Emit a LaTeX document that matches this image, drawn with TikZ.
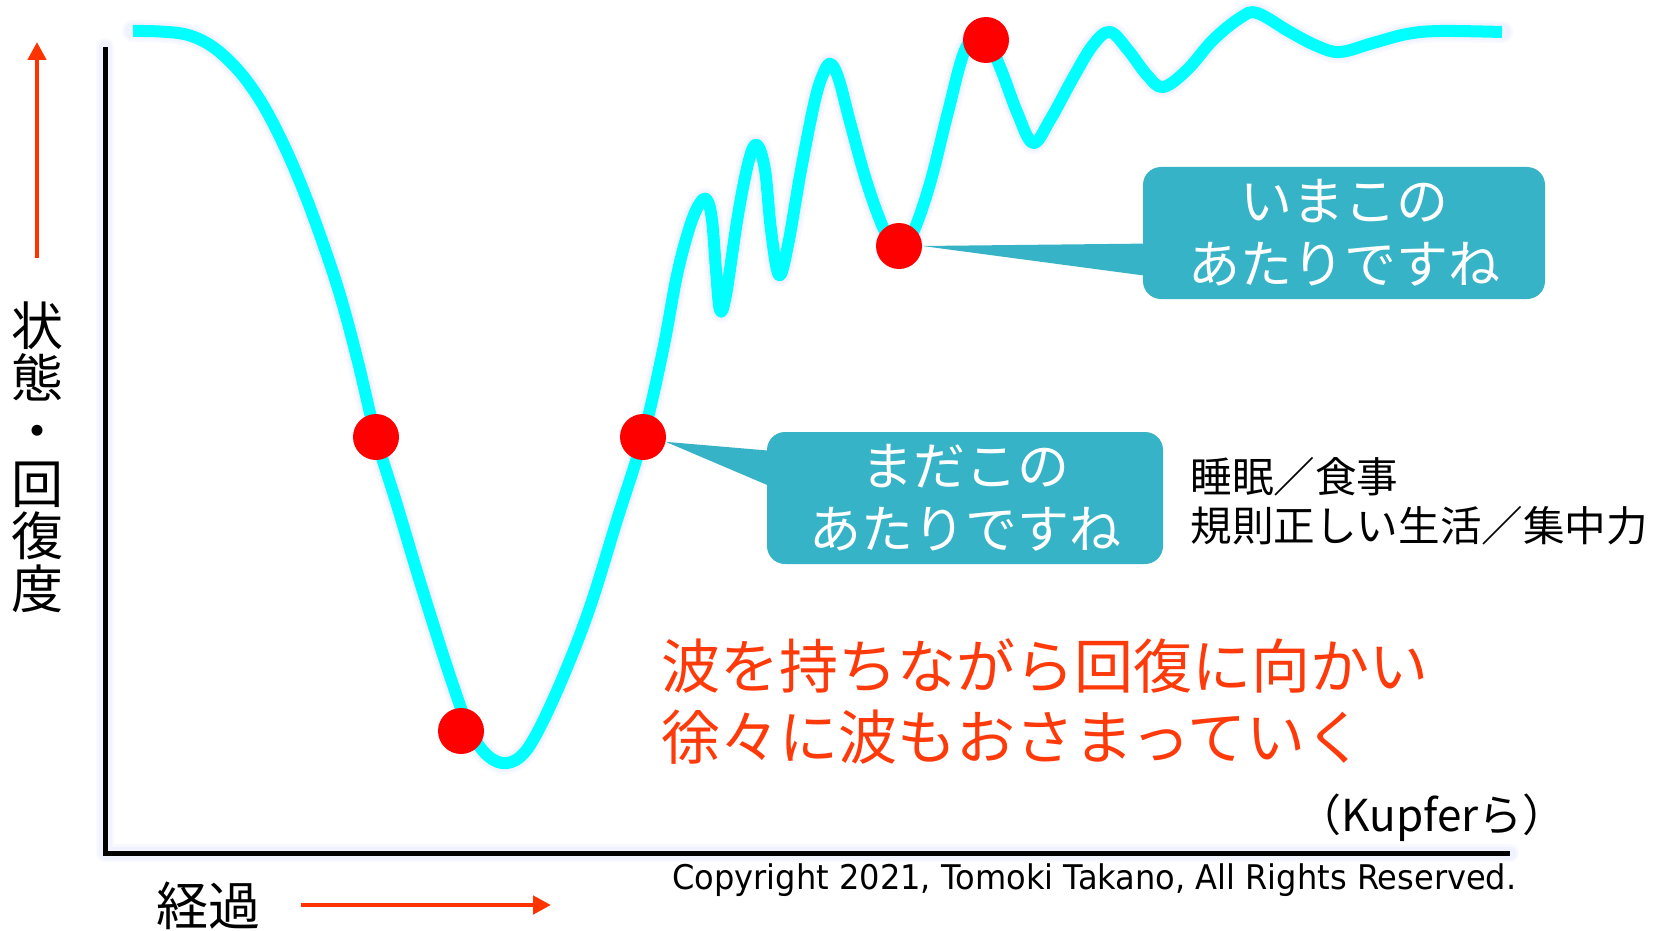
\documentclass[tikz,border=0pt]{standalone}
\usepackage{fontspec}
\usepackage{graphicx}
\setmainfont{Noto Sans CJK JP}
\newfontfamily\copyfont{DejaVu Sans}
\usetikzlibrary{arrows.meta,calc}
\definecolor{cyanline}{RGB}{0,255,255}
\definecolor{callout}{RGB}{54,179,198}
\definecolor{redtext}{RGB}{255,58,10}
\definecolor{arrowred}{RGB}{255,51,0}
\definecolor{glowc}{RGB}{170,190,250}
\definecolor{dotred}{RGB}{255,0,0}
\begin{document}
\begin{tikzpicture}[x=0.5pt,y=-0.5pt,
  axisline/.style={line width=2.5pt, black},
  glowline/.style={line width=#1, glowc, opacity=0.09, line cap=round, line join=round},
  curveline/.style={line width=6pt, cyanline, line cap=butt, line join=round},
  reddot/.style={circle, fill=dotred, minimum size=23pt, inner sep=0pt},
  callbox/.style={rectangle, rounded corners=9pt, fill=callout, minimum width=#1, minimum height=66pt, inner sep=0pt, text=white, align=center, font=\fontsize{26}{31.5}\selectfont},
  redarrow/.style={line width=2.3pt, arrowred, -{Triangle[width=9pt,length=9pt]}},
]
\fill[white] (0,0) rectangle (1660,931);
\useasboundingbox (0,0) rectangle (1660,931);

% axes
\coordinate (ytop) at (105,47);
\coordinate (O) at (105,853);
\coordinate (xend) at (1510,853);
\draw[glowline=9pt] (ytop) -- (O) -- (xend);
\draw[glowline=6.5pt] (ytop) -- (O) -- (xend);
\draw[axisline] (ytop) -- (O) -- (xend);

% red axis arrows
\coordinate (ya0) at (37,258);
\coordinate (ya1) at (37,42);
\draw[redarrow] (ya0) -- (ya1);
\coordinate (xa0) at (301,905);
\coordinate (xa1) at (551,905);
\draw[redarrow] (xa0) -- (xa1);

% curve (glow layers, then the line)
\foreach \w/\s in {11pt/glowline, 8.5pt/glowline, 6pt/curveline}{
\draw[\s=\w] plot[smooth,tension=0.6] coordinates {
 (133,31) (160,31.5) (188,35) (213,47) (238,70) (260,100) (280,137) (300,182)
 (320,235) (340,295) (358,362) (376,437) (397,505) (417,572) (437,636) (453,685)
 (468,726) (484,752) (502,763) (520,757) (537,733) (563,677) (590,607) (617,520)
 (643,437) (663,350) (677,275) (690,226) (700,203) (707,200) (712,220) (716,270)
 (720,310) (726,295) (738,215) (749,160) (757,145) (765,170) (771,230) (779,275)
 (788,245) (801,170) (815,100) (824,72) (831,64) (839,80) (850,122) (866,180)
 (882,225) (893,244) (903,247) (915,228) (931,180) (948,112) (965,50) (983,32)
 (1000,67) (1017,112) (1033,143) (1050,120) (1073,78) (1093,45) (1110,32) (1128,50)
 (1147,75) (1163,87) (1187,70) (1213,40) (1240,18) (1257,13) (1290,32) (1317,46)
 (1340,52) (1373,43) (1407,34) (1440,31) (1502,32)};
}

% callout boxes
\node[callbox=201pt] (b1) at (1344,233) {いまこの\\あたりですね};
\node[callbox=198pt] (b2) at (965,498) {まだこの\\あたりですね};

% dots
\node[reddot] (d1) at (376,437) {};
\node[reddot] (d2) at (461,731) {};
\node[reddot] (d3) at (643,437) {};
\node[reddot] (d4) at (899,246) {};
\node[reddot] (d5) at (986,40) {};

% pointers
\fill[callout] (d4.east) -- ($(b1.north west)+(2,77)$) -- ($(b1.north west)+(2,109)$) -- cycle;
\fill[callout] (d3.-12) -- ($(b2.north west)+(2,19)$) -- ($(b2.north west)+(2,54)$) -- cycle;

% texts
\node[font=\fontsize{26}{26.3}\selectfont, align=center, inner sep=0pt] (ylabel) at (37,457) {状\\態\\・\\回\\復\\度};
\node[font=\fontsize{26}{30}\selectfont, inner sep=0pt] (xlabel) at (208,906) {経過};
\node[anchor=west, text=redtext, align=left, inner sep=0pt, font=\fontsize{29.5}{35.5}\selectfont] (msg) at (661,701) {波を持ちながら回復に向かい\\徐々に波もおさまっていく};
\node[anchor=west, align=left, inner sep=0pt, font=\fontsize{20.8}{24.5}\selectfont] (factors) at (1190,501) {睡眠／食事\\規則正しい生活／集中力};
\node[inner sep=0pt, font=\fontsize{22}{26}\selectfont] (src) at (1432,818) {（Kupferら）};
\node[anchor=base west, inner sep=0pt] (copy) at (672,889) {\copyfont\fontsize{17}{20}\selectfont\resizebox{422pt}{\height}{Copyright 2021, Tomoki Takano, All Rights Reserved.}};
\end{tikzpicture}
\end{document}
